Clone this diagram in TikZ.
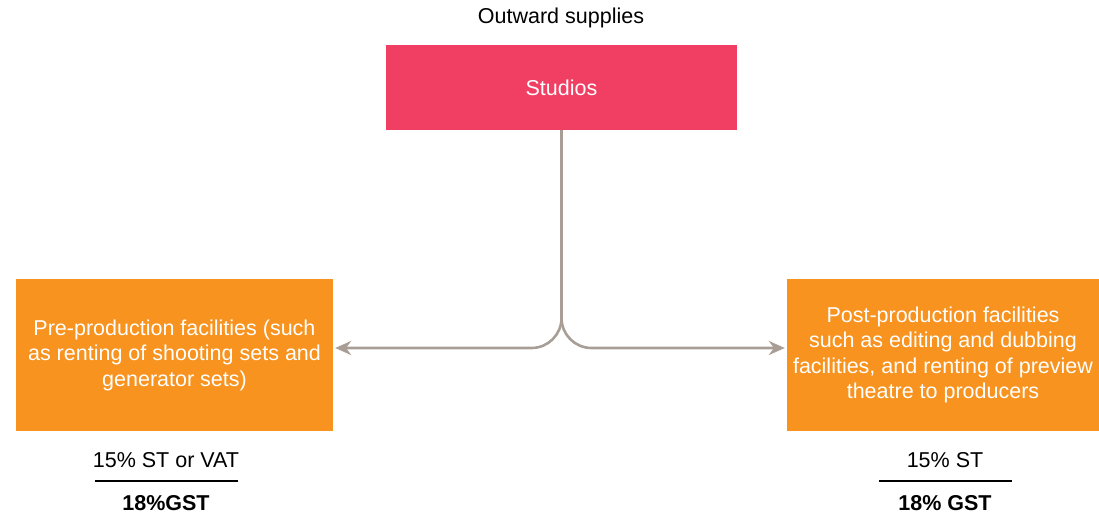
\documentclass[tikz,border=0pt]{standalone}
\usepackage{fontspec}
\setmainfont{Liberation Sans}
\usepackage[]{xcolor}
\usetikzlibrary{positioning, arrows.meta}
\definecolor{pink}{HTML}{F03F63}
\definecolor{orange}{HTML}{F7931E}
\definecolor{line}{HTML}{A89E96}
\tikzstyle{blockp} = [rectangle, minimum width=351pt, minimum height=85pt, text centered, fill=pink, text=white]
\tikzstyle{blocko} = [rectangle, minimum height=152pt, text centered, fill=orange, text=white, align=center]
\tikzstyle{rate} = [inner sep=0pt, text=black]
\tikzset{
	conn/.style={draw=line, line width=2.6pt, -{Stealth[length=16pt, width=14pt]}, rounded corners=30pt},
	bar/.style={line width=1.6pt}
	}

\begin{document}
\begin{tikzpicture}[x=1pt, y=-1pt, font=\fontsize{21.5}{25.5}\selectfont]
	\useasboundingbox (0,0) rectangle (1099,515);
	\node [rate] (title) at (561,18) {Outward supplies};
	\node [blockp] (studios) at (561.5,87.5) {Studios};
	\node [blocko, minimum width=317pt] (pre) at (174.5,355) {Pre-production facilities (such\\as renting of shooting sets and\\generator sets)};
	\node [blocko, minimum width=312pt] (post) at (943,355) {Post-production facilities\\such as editing and dubbing\\facilities, and renting of preview\\theatre to producers};
	
	\draw[conn] (studios.south) |- ([yshift=7pt, xshift=2pt]pre.east);
	\draw[conn] (studios.south) |- ([yshift=7pt, xshift=-2pt]post.west);
	
	% tax rates
	\node [rate] (preold) at (166,460) {15\% ST or VAT};
	\node [rate] (prenew) at (166,503) {\textbf{18\%GST}};
	\node [rate] (postold) at (945,460) {15\% ST};
	\node [rate] (postnew) at (945,503) {\textbf{18\% GST}};
	\draw[bar] (95,481) -- (238,481);
	\draw[bar] (879,481) -- (1012,481);
\end{tikzpicture}
\end{document}
